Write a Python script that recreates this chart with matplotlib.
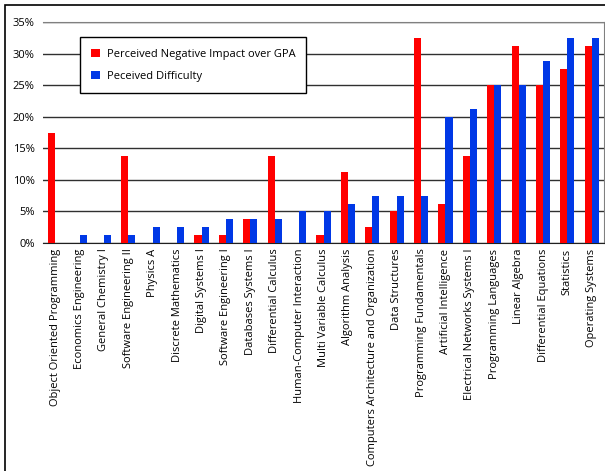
import numpy as np
import matplotlib
matplotlib.use("Agg")
import matplotlib.pyplot as plt
from matplotlib.patches import Rectangle
from matplotlib.ticker import PercentFormatter

plt.rcParams['font.family'] = ['Open Sans', 'DejaVu Sans']

courses = [
    'Object Oriented Programming', 'Economics Engineering', 'General Chemistry I',
    'Software Engineering II', 'Physics A', 'Discrete Mathematics', 'Digital Systems I',
    'Software Engineering I', 'Databases Systems I', 'Differential Calculus',
    'Human-Computer Interaction', 'Multi Variable Calculus', 'Algorithm Analysis',
    'Computers Architecture and Organization', 'Data Structures',
    'Programming Fundamentals', 'Artificial Intelligence',
    'Electrical Networks Systems I', 'Programming Languages', 'Linear Algebra',
    'Differential Equations', 'Statistics', 'Operating Systems',
]
negative_impact = [17.5, 0, 0, 13.75, 0, 0, 1.25, 1.25, 3.75, 13.75, 0, 1.25,
                   11.25, 2.5, 5, 32.5, 6.25, 13.75, 25, 31.25, 25, 27.5, 31.25]
difficulty = [0, 1.25, 1.25, 1.25, 2.5, 2.5, 2.5, 3.75, 3.75, 3.75, 5, 5,
              6.25, 7.5, 7.5, 7.5, 20, 21.25, 25, 25, 28.75, 32.5, 32.5]

fig = plt.figure(figsize=(6.05, 4.71), dpi=100)
ax = fig.add_axes([43 / 605, 1 - 243 / 471, 561 / 605, 221 / 471])

x = np.arange(len(courses))
w = 0.29
ax.bar(x - w / 2, negative_impact, w, color='#ff0000',
       label='Perceived Negative Impact over GPA', zorder=3)
ax.bar(x + w / 2, difficulty, w, color='#0038e6',
       label='Peceived Difficulty', zorder=3)

ax.set_xlim(-0.5, len(courses) - 0.5)
ax.set_ylim(0, 35)
ax.set_yticks(np.arange(0, 36, 5))
ax.yaxis.set_major_formatter(PercentFormatter(decimals=0))
ax.grid(axis='y', color='#303030', linewidth=1, zorder=0)
ax.set_xticks(x)
ax.set_xticklabels(courses, rotation=90, fontsize=8)
ax.tick_params(axis='y', labelsize=8, length=0, pad=6)
ax.tick_params(axis='x', length=0, pad=4)
for side in ['top', 'right']:
    ax.spines[side].set_color('#808080')
ax.spines['bottom'].set_color('#202020')
ax.spines['left'].set_visible(False)

leg = ax.legend(loc='upper left', bbox_to_anchor=(0.066, 0.93), fontsize=8.0,
                fancybox=False, framealpha=1, edgecolor='black',
                handlelength=0.8, handleheight=0.8, borderpad=1.0,
                labelspacing=1.0, handletextpad=0.6, borderaxespad=0)
leg.get_frame().set_linewidth(1)

fig.patches.append(Rectangle((5 / 605, -0.01), 1.0, 1 - 5 / 471 + 0.01,
                             transform=fig.transFigure, fill=False,
                             edgecolor='black', linewidth=1.2))

fig.savefig('out.png', dpi=100)
